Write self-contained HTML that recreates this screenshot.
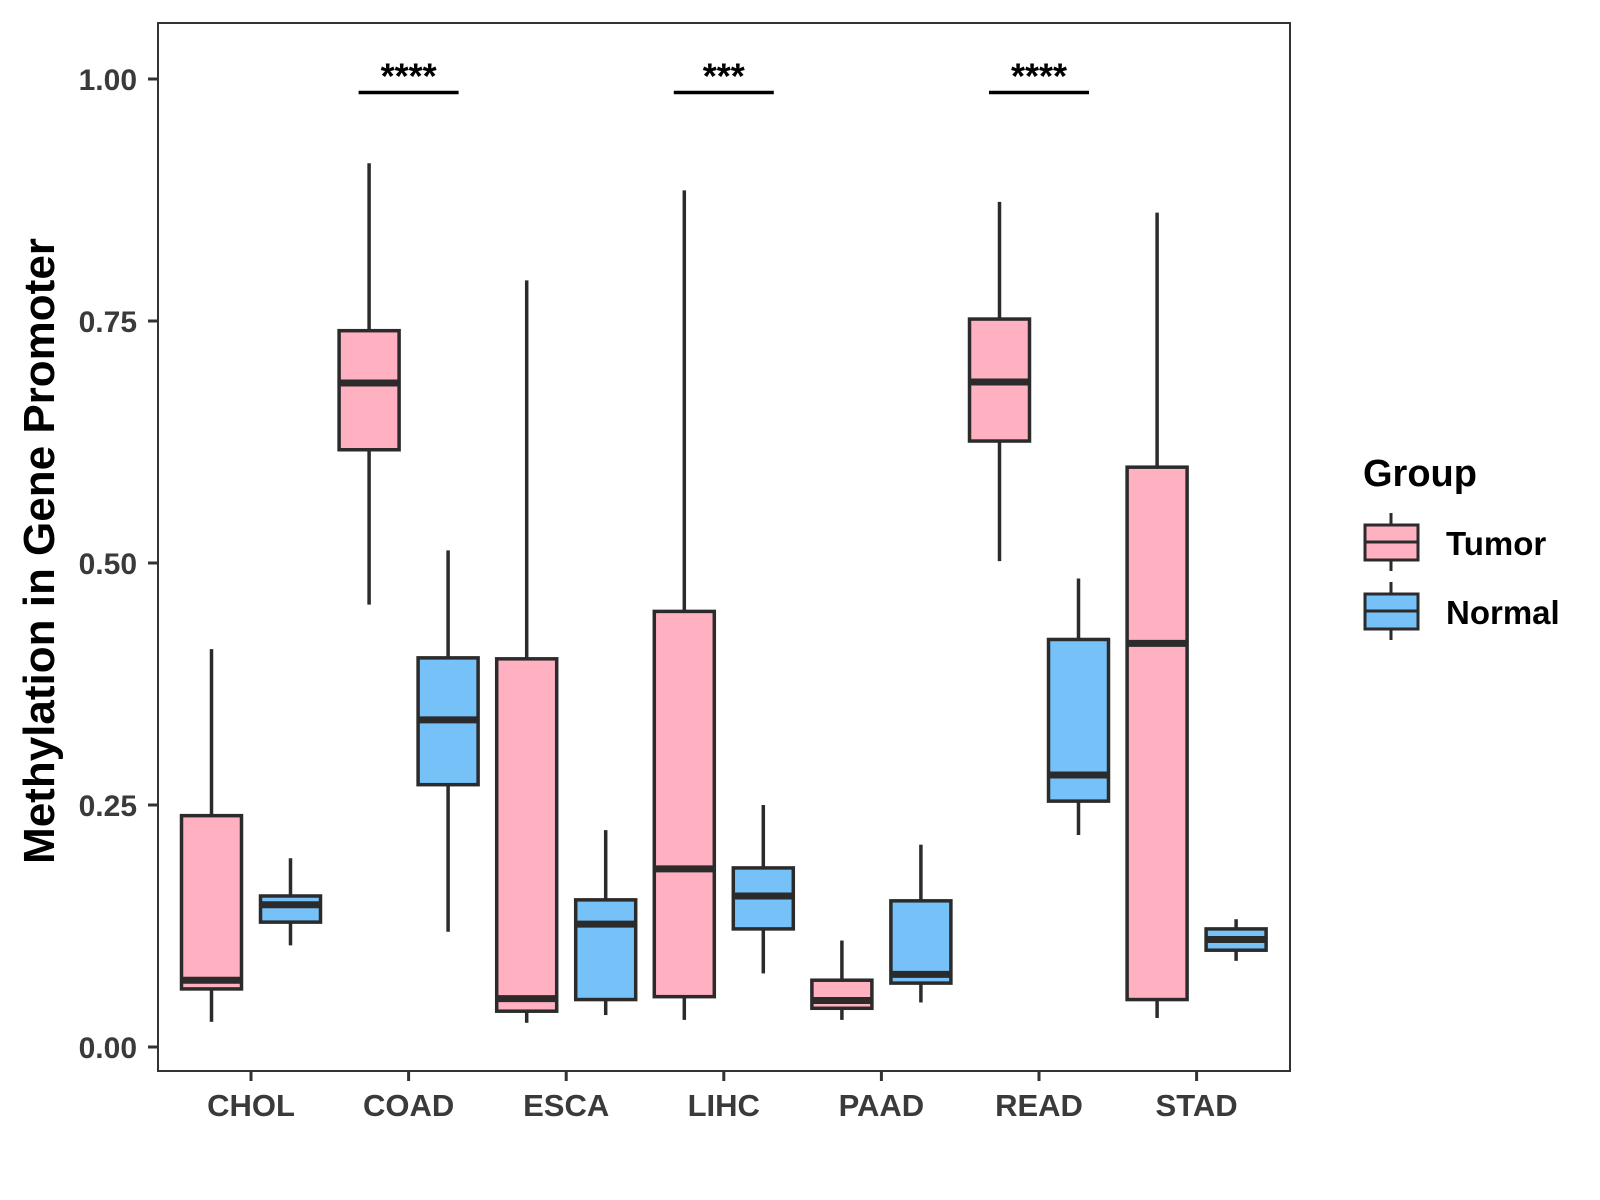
<!DOCTYPE html>
<html><head><meta charset="utf-8"><style>
html,body{margin:0;padding:0;background:#fff;}
svg{display:block;font-family:"Liberation Sans",Arial,sans-serif;}
</style></head><body>
<svg id="chart" width="1600" height="1200" viewBox="0 0 1600 1200" xmlns="http://www.w3.org/2000/svg">
<rect x="0" y="0" width="1600" height="1200" fill="#fff"/>
<g id="plot"></g>
<text x="0" y="0" transform="translate(54,551) rotate(-90)" text-anchor="middle" font-size="44" font-weight="bold" fill="#000">Methylation in Gene Promoter</text>
<g>
<text x="1363" y="486" font-size="38" font-weight="bold" fill="#000">Group</text>
<g>
<line x1="1391" y1="513" x2="1391" y2="571" stroke="#2b2b2b" stroke-width="3"/>
<rect x="1365" y="525" width="53" height="35" fill="#FFB0C1" stroke="#2b2b2b" stroke-width="3"/>
<line x1="1365" y1="542" x2="1418" y2="542" stroke="#2b2b2b" stroke-width="3"/>
<text x="1446" y="555" font-size="33" font-weight="bold" fill="#000">Tumor</text>
</g>
<g>
<line x1="1391" y1="582" x2="1391" y2="640" stroke="#2b2b2b" stroke-width="3"/>
<rect x="1365" y="594" width="53" height="35" fill="#76C1F8" stroke="#2b2b2b" stroke-width="3"/>
<line x1="1365" y1="611" x2="1418" y2="611" stroke="#2b2b2b" stroke-width="3"/>
<text x="1446" y="624" font-size="33" font-weight="bold" fill="#000">Normal</text>
</g>
</g>
</svg>
<script>
const categories = ["CHOL","COAD","ESCA","LIHC","PAAD","READ","STAD"];
const groups = ["Tumor","Normal"];
// [low, q1, median, q3, high]
const tumorStats = [
 [0.026,0.060,0.069,0.239,0.411],
 [0.457,0.617,0.686,0.740,0.913],
 [0.025,0.037,0.050,0.401,0.792],
 [0.028,0.052,0.184,0.450,0.885],
 [0.028,0.040,0.048,0.069,0.110],
 [0.502,0.626,0.687,0.752,0.873],
 [0.030,0.049,0.417,0.599,0.862]
];
const normalStats = [
 [0.105,0.129,0.147,0.156,0.195],
 [0.119,0.271,0.338,0.402,0.513],
 [0.033,0.049,0.127,0.152,0.224],
 [0.076,0.122,0.156,0.185,0.250],
 [0.046,0.066,0.075,0.151,0.209],
 [0.219,0.254,0.281,0.421,0.484],
 [0.089,0.100,0.111,0.122,0.132]
];
const yTicks = [0,0.25,0.5,0.75,1.0];
const yTickLabels = ["0.00","0.25","0.50","0.75","1.00"];
const sigCategories = ["COAD","LIHC","READ"];
const sigLabels = ["****","***","****"];
const sigLevel = 0.986;

const NS="http://www.w3.org/2000/svg";
const P={l:158,r:1290,t:23,b:1071};
const yScale=v=>1047-968*v;
const step=157.6;
const xScale=i=>251+i*step;
const boxW=60, off=39.5;
const g=document.getElementById('plot');
function mk(tag,attrs,parent){const e=document.createElementNS(NS,tag);for(const k in attrs)e.setAttribute(k,attrs[k]);(parent||g).appendChild(e);return e;}
const stroke="#2b2b2b";
const panel=mk('rect',{x:P.l,y:P.t,width:P.r-P.l,height:P.b-P.t,fill:"none",stroke:"#333",'stroke-width':2});


yTicks.forEach((v,i)=>{
 const y=yScale(v);
 const t=mk('line',{x1:P.l-10,x2:P.l,y1:y,y2:y,stroke:"#333",'stroke-width':3});
 
 
 const l=mk('text',{x:P.l-21,y:y+11,'text-anchor':'end','font-size':30,'font-weight':'bold',fill:'#3a3a3a'});
 l.textContent=yTickLabels[i];
 
 
});
categories.forEach((c,i)=>{
 const x=xScale(i);
 const t=mk('line',{x1:x,x2:x,y1:P.b,y2:P.b+10,stroke:"#333",'stroke-width':3});
 
 
 const l=mk('text',{x:x,y:1116,'text-anchor':'middle','font-size':31,'font-weight':'bold',fill:'#3a3a3a'});
 l.textContent=c;
 
 
});
function drawBox(cx,s,fill,name){
 const grp=mk('g',{});
 
 
 mk('line',{x1:cx,x2:cx,y1:yScale(s[3]),y2:yScale(s[4]),stroke:stroke,'stroke-width':3.5},grp);
 mk('line',{x1:cx,x2:cx,y1:yScale(s[1]),y2:yScale(s[0]),stroke:stroke,'stroke-width':3.5},grp);
 mk('rect',{x:cx-boxW/2,y:yScale(s[3]),width:boxW,height:yScale(s[1])-yScale(s[3]),fill:fill,stroke:stroke,'stroke-width':3.5},grp);
 mk('line',{x1:cx-boxW/2,x2:cx+boxW/2,y1:yScale(s[2]),y2:yScale(s[2]),stroke:stroke,'stroke-width':7},grp);
}
categories.forEach((c,i)=>{
 drawBox(xScale(i)-off,tumorStats[i],"#FFB0C1","box-tumor-"+c.toLowerCase());
 drawBox(xScale(i)+off,normalStats[i],"#76C1F8","box-normal-"+c.toLowerCase());
});
sigCategories.forEach((c,k)=>{
 const i=categories.indexOf(c);
 const x=xScale(i), y=yScale(sigLevel);
 const ln=mk('line',{x1:x-50,x2:x+50,y1:y,y2:y,stroke:"#000",'stroke-width':3.5});
 
 
 const t=mk('text',{x:x,y:y-4,'text-anchor':'middle','font-size':36,'font-weight':'bold',fill:'#000'});
 t.textContent=sigLabels[k];
 
 
});
</script>
</body></html>
